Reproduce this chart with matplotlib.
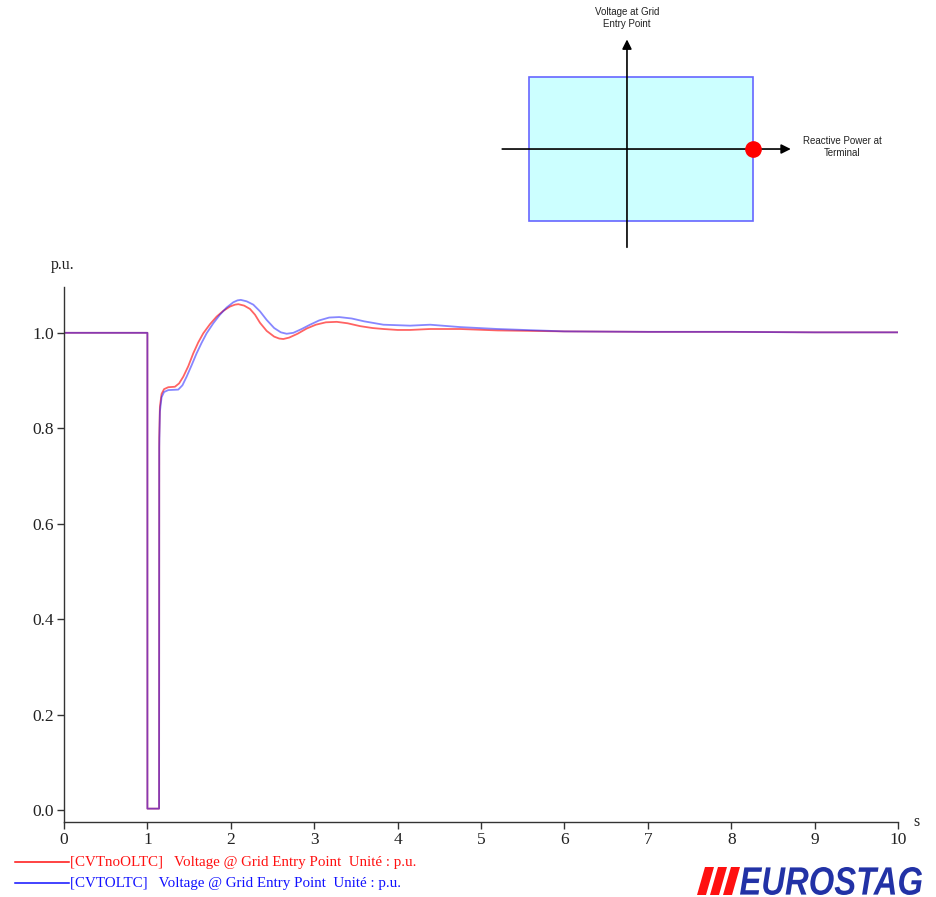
"""
Grid entry point voltage after a fault, with and without OLTC (EUROSTAG style)
"""
import matplotlib
matplotlib.use("Agg")
import matplotlib.pyplot as plt
from matplotlib.patches import Polygon, Rectangle, PathPatch
from matplotlib.textpath import TextPath
from matplotlib.font_manager import FontProperties
from matplotlib.transforms import Affine2D, IdentityTransform

# [CVTnoOLTC] voltage @ grid entry point (p.u.)
t_no_oltc = [0.0, 1.0, 1.0, 1.14, 1.142, 1.15, 1.17, 1.2, 1.25, 1.33, 1.38,
             1.43, 1.49, 1.55, 1.61, 1.67, 1.75, 1.83, 1.91, 1.99, 2.05, 2.09,
             2.16, 2.23, 2.29, 2.35, 2.43, 2.52, 2.58, 2.63, 2.70, 2.80, 2.91,
             3.02, 3.14, 3.27, 3.40, 3.55, 3.70, 3.83, 4.0, 4.15, 4.39, 4.75,
             5.2, 6.0, 7.0, 8.0, 9.0, 10.0]
v_no_oltc = [1.0, 1.0, 0.003, 0.003, 0.78, 0.845, 0.872, 0.882, 0.886, 0.887,
             0.894, 0.908, 0.930, 0.957, 0.980, 0.999, 1.018, 1.034, 1.046,
             1.055, 1.059, 1.060, 1.057, 1.050, 1.038, 1.021, 1.004, 0.992,
             0.988, 0.987, 0.990, 0.998, 1.009, 1.017, 1.022, 1.023, 1.020,
             1.014, 1.010, 1.008, 1.006, 1.006, 1.008, 1.008, 1.005, 1.003,
             1.002, 1.002, 1.001, 1.001]

# [CVTOLTC] voltage @ grid entry point (p.u.)
t_oltc = [0.0, 1.0, 1.0, 1.14, 1.142, 1.15, 1.17, 1.2, 1.25, 1.37, 1.42,
          1.47, 1.53, 1.59, 1.65, 1.71, 1.79, 1.87, 1.95, 2.03, 2.08, 2.12,
          2.19, 2.27, 2.35, 2.43, 2.52, 2.60, 2.67, 2.75, 2.85, 2.95, 3.06,
          3.18, 3.30, 3.45, 3.60, 3.83, 4.15, 4.39, 4.75, 5.2, 6.0, 7.0, 8.0,
          9.0, 10.0]
v_oltc = [1.0, 1.0, 0.003, 0.003, 0.76, 0.835, 0.865, 0.876, 0.880, 0.881,
          0.890, 0.908, 0.932, 0.957, 0.979, 0.999, 1.020, 1.038, 1.053,
          1.064, 1.068, 1.069, 1.066, 1.059, 1.045, 1.027, 1.010, 1.001,
          0.998, 1.000, 1.008, 1.017, 1.026, 1.032, 1.033, 1.030, 1.024,
          1.017, 1.015, 1.017, 1.012, 1.008, 1.003, 1.002, 1.002, 1.001, 1.001]

x_ticks = list(range(0, 11))
y_ticks = [0.0, 0.2, 0.4, 0.6, 0.8, 1.0]

label_no_oltc = "[CVTnoOLTC]   Voltage @ Grid Entry Point  Unité : p.u."
label_oltc = "[CVTOLTC]   Voltage @ Grid Entry Point  Unité : p.u."

RED = "#ff1010"
BLUE = "#1010ff"
SERIF = ["Liberation Serif", "DejaVu Serif"]

fig = plt.figure(figsize=(9.36, 8.97), dpi=100)
W, H = 936.0, 897.0


def fbox(x0, y0, x1, y1):
    # pixel box (top-left origin) -> figure fraction rect
    return [x0 / W, 1 - y1 / H, (x1 - x0) / W, (y1 - y0) / H]


# main chart
ax = fig.add_axes(fbox(64, 287, 898, 822))
ax.plot(t_no_oltc, v_no_oltc, color=RED, lw=1.3, alpha=0.65)
ax.plot(t_oltc, v_oltc, color=BLUE, lw=1.3, alpha=0.5)
ax.set_xlim(0, 10)
ax.set_ylim(-0.025, 1.096)
ax.set_xticks(x_ticks)
ax.set_xticklabels([str(v) for v in x_ticks])
ax.set_yticks(y_ticks)
ax.set_yticklabels([f"{v:.1f}" for v in y_ticks])
for s in ["top", "right"]:
    ax.spines[s].set_visible(False)
for s in ["left", "bottom"]:
    ax.spines[s].set_color("#333333")
    ax.spines[s].set_linewidth(1.0)
ax.tick_params(length=5, width=1, color="#333333", labelsize=12.5,
               labelcolor="#222222", pad=2)
for lab in ax.get_xticklabels() + ax.get_yticklabels():
    lab.set_family(SERIF)
fig.text(63 / W, 1 - 265 / H, "p.u.", family=SERIF, fontsize=11.5,
         color="#222222", ha="center", va="center")
fig.text(916 / W, 1 - 822 / H, "s", family=SERIF, fontsize=11.5,
         color="#222222", ha="center", va="center")

# legend at the bottom
for y, col, lab in [(862, RED, label_no_oltc), (883, BLUE, label_oltc)]:
    fig.add_artist(plt.Line2D([15 / W, 69 / W], [1 - y / H, 1 - y / H],
                              color=col, lw=1.1))
    fig.text(70 / W, 1 - y / H, lab, family=SERIF, fontsize=10.8, color=col,
             ha="left", va="center")

# EUROSTAG logo: stripes + horizontally squeezed italic text
for i in range(3):
    x0 = 697 + i * 13
    fig.add_artist(Polygon([((x0 + 0) / W, 1 - 895 / H), ((x0 + 9) / W, 1 - 895 / H),
                            ((x0 + 17) / W, 1 - 867 / H), ((x0 + 8) / W, 1 - 867 / H)],
                           closed=True, transform=fig.transFigure,
                           facecolor="#ff1010", edgecolor="none"))
logo = TextPath((0, 0), "EUROSTAG", size=100,
                prop=FontProperties(family="Liberation Sans", weight="bold",
                                    style="italic"))
ext = logo.get_extents()
sx = (922 - 740) / ext.width
sy = (895 - 867) / ext.height
logo_tr = (Affine2D().translate(-ext.x0, -ext.y0).scale(sx, sy)
           .translate(740, H - 895) + IdentityTransform())
fig.add_artist(PathPatch(logo, transform=logo_tr, facecolor="#2232a6",
                         edgecolor="none"))

# Q-V capability sketch (units: Q max = 1)
q_min, q_max = -0.78, 1.0
v_min, v_max = -0.57, 0.57
axd = fig.add_axes(fbox(490, 0, 910, 260))
axd.set_xlim(-1.087, 2.246)
axd.set_ylim(-0.881, 1.183)
axd.axis("off")
axd.add_patch(Rectangle((q_min, v_min), q_max - q_min, v_max - v_min,
                        facecolor="#ccffff", edgecolor="#6666ff", lw=1.2))
axd.annotate("", xy=(1.30, 0), xytext=(-0.99, 0),
             arrowprops=dict(arrowstyle="-|>", color="black", lw=1.2,
                             mutation_scale=14, shrinkA=0, shrinkB=0))
axd.annotate("", xy=(0, 0.87), xytext=(0, -0.78),
             arrowprops=dict(arrowstyle="-|>", color="black", lw=1.2,
                             mutation_scale=14, shrinkA=0, shrinkB=0))
axd.plot([q_max], [0], "o", color="red", ms=11, zorder=5)
axd.text(0, 1.04, "Voltage at Grid\nEntry Point", ha="center", va="center",
         fontsize=7, family="Liberation Sans", color="#222222")
axd.text(1.706, 0.016, "Reactive Power at\nTerminal", ha="center",
         va="center", fontsize=7, family="Liberation Sans", color="#222222")

fig.savefig("out.png", dpi=100)
